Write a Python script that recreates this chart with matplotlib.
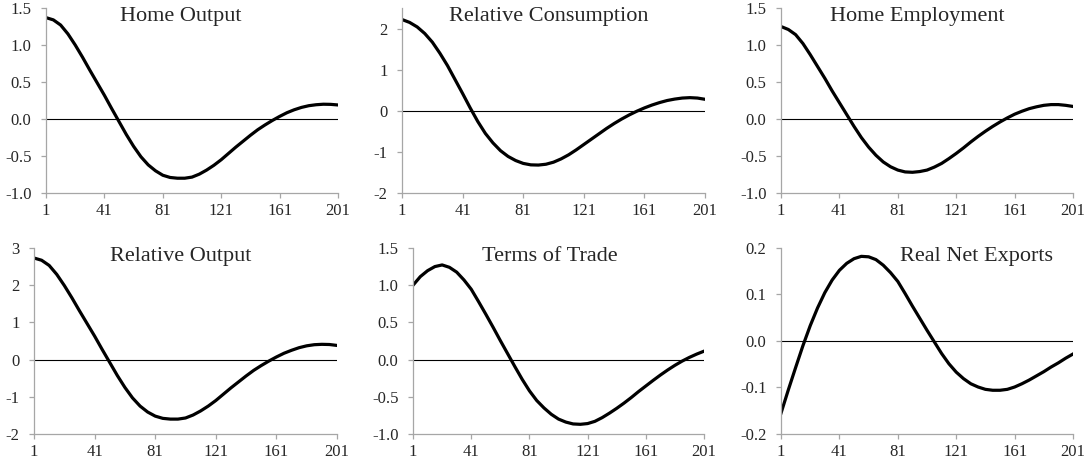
import matplotlib
matplotlib.use('Agg')
import matplotlib.pyplot as plt
from matplotlib.ticker import FormatStrFormatter

plt.rcParams['font.family'] = ['Liberation Serif', 'DejaVu Serif']
plt.rcParams['axes.unicode_minus'] = False

# 期間 (1, 6, 11, ..., 201)
periods = list(range(1, 202, 5))
x_ticks = [1, 41, 81, 121, 161, 201]

home_output = [1.37, 1.34, 1.27, 1.15, 1.00, 0.835, 0.66, 0.49, 0.32, 0.14,
               -0.035, -0.21, -0.37, -0.51, -0.62, -0.70, -0.76, -0.79, -0.80, -0.80,
               -0.785, -0.745, -0.69, -0.625, -0.55, -0.465, -0.38, -0.30, -0.22, -0.145,
               -0.08, -0.02, 0.035, 0.085, 0.125, 0.157, 0.18, 0.193, 0.20, 0.198, 0.19]
rel_consumption = [2.22, 2.15, 2.04, 1.88, 1.67, 1.40, 1.10, 0.76, 0.42, 0.07,
                   -0.26, -0.55, -0.78, -0.97, -1.11, -1.21, -1.28, -1.315, -1.32, -1.30,
                   -1.25, -1.17, -1.07, -0.95, -0.82, -0.69, -0.56, -0.43, -0.31, -0.20,
                   -0.10, -0.01, 0.07, 0.14, 0.20, 0.25, 0.285, 0.31, 0.32, 0.31, 0.28]
home_employment = [1.25, 1.21, 1.14, 1.02, 0.87, 0.71, 0.55, 0.38, 0.22, 0.06,
                   -0.10, -0.25, -0.38, -0.49, -0.58, -0.645, -0.69, -0.715, -0.72, -0.71,
                   -0.69, -0.65, -0.60, -0.535, -0.465, -0.39, -0.31, -0.235, -0.165, -0.10,
                   -0.04, 0.015, 0.065, 0.105, 0.14, 0.165, 0.185, 0.195, 0.195, 0.185, 0.17]
rel_output = [2.73, 2.67, 2.53, 2.29, 1.99, 1.66, 1.31, 0.97, 0.63, 0.27,
              -0.08, -0.43, -0.75, -1.03, -1.25, -1.41, -1.52, -1.58, -1.60, -1.60,
              -1.57, -1.49, -1.38, -1.25, -1.10, -0.93, -0.76, -0.60, -0.44, -0.29,
              -0.16, -0.04, 0.07, 0.17, 0.25, 0.32, 0.37, 0.40, 0.41, 0.405, 0.38]
terms_of_trade = [1.00, 1.115, 1.195, 1.25, 1.272, 1.24, 1.175, 1.07, 0.945, 0.78,
                  0.61, 0.435, 0.255, 0.08, -0.095, -0.265, -0.42, -0.55, -0.65, -0.735,
                  -0.80, -0.84, -0.865, -0.87, -0.86, -0.83, -0.78, -0.72, -0.655, -0.585,
                  -0.51, -0.43, -0.355, -0.28, -0.208, -0.14, -0.077, -0.02, 0.03, 0.074, 0.113]
net_exports = [-0.155, -0.105, -0.057, -0.01, 0.033, 0.071, 0.104, 0.131, 0.152, 0.167,
               0.177, 0.182, 0.181, 0.175, 0.163, 0.147, 0.128, 0.102, 0.075, 0.049,
               0.023, -0.002, -0.027, -0.049, -0.067, -0.081, -0.092, -0.099, -0.104, -0.106,
               -0.106, -0.104, -0.099, -0.092, -0.084, -0.075, -0.066, -0.056, -0.047, -0.037, -0.028]

panels = [
    # (title, data, ylim, yticks, fmt, axes rect, title x)
    ("Home Output", home_output, (-1.0, 1.5), [-1.0, -0.5, 0.0, 0.5, 1.0, 1.5], '%.1f',
     [0.0422, 0.5867, 0.2676, 0.3961], 0.462),
    ("Relative Consumption", rel_consumption, (-2, 2.5), [-2, -1, 0, 1, 2], '%d',
     [0.3685, 0.5867, 0.2777, 0.3961], 0.485),
    ("Home Employment", home_employment, (-1.0, 1.5), [-1.0, -0.5, 0.0, 0.5, 1.0, 1.5], '%.1f',
     [0.7159, 0.5867, 0.2676, 0.3961], 0.466),
    ("Relative Output", rel_output, (-2, 3), [-2, -1, 0, 1, 2, 3], '%d',
     [0.0312, 0.0707, 0.2777, 0.3983], 0.485),
    ("Terms of Trade", terms_of_trade, (-1.0, 1.5), [-1.0, -0.5, 0.0, 0.5, 1.0, 1.5], '%.1f',
     [0.3786, 0.0707, 0.2667, 0.3983], 0.471),
    ("Real Net Exports", net_exports, (-0.2, 0.2), [-0.2, -0.1, 0.0, 0.1, 0.2], '%.1f',
     [0.7159, 0.0707, 0.2676, 0.3983], 0.671),
]

fig = plt.figure(figsize=(10.91, 4.67), dpi=100)

for title, data, ylim, yticks, fmt, rect, tx in panels:
    ax = fig.add_axes(rect)
    ax.axhline(0, color='black', linewidth=0.8, zorder=1)
    ax.plot(periods, data, color='black', linewidth=2.3, zorder=2)
    ax.set_xlim(1, 201)
    ax.set_ylim(*ylim)
    ax.set_xticks(x_ticks)
    ax.set_yticks(yticks)
    ax.yaxis.set_major_formatter(FormatStrFormatter(fmt))
    for side in ['top', 'right']:
        ax.spines[side].set_visible(False)
    for side in ['left', 'bottom']:
        ax.spines[side].set_color('#a6a6a6')
        ax.spines[side].set_linewidth(0.9)
    ax.tick_params(direction='out', length=3.5, width=0.9, color='#a6a6a6',
                   labelsize=12, labelcolor='#262626')
    ax.tick_params(axis='x', pad=4)
    ax.tick_params(axis='y', pad=7)
    ax.text(tx, 0.955, title, transform=ax.transAxes, ha='center', va='center',
            fontsize=16, color='#262626')

fig.savefig('out.png', dpi=100)
